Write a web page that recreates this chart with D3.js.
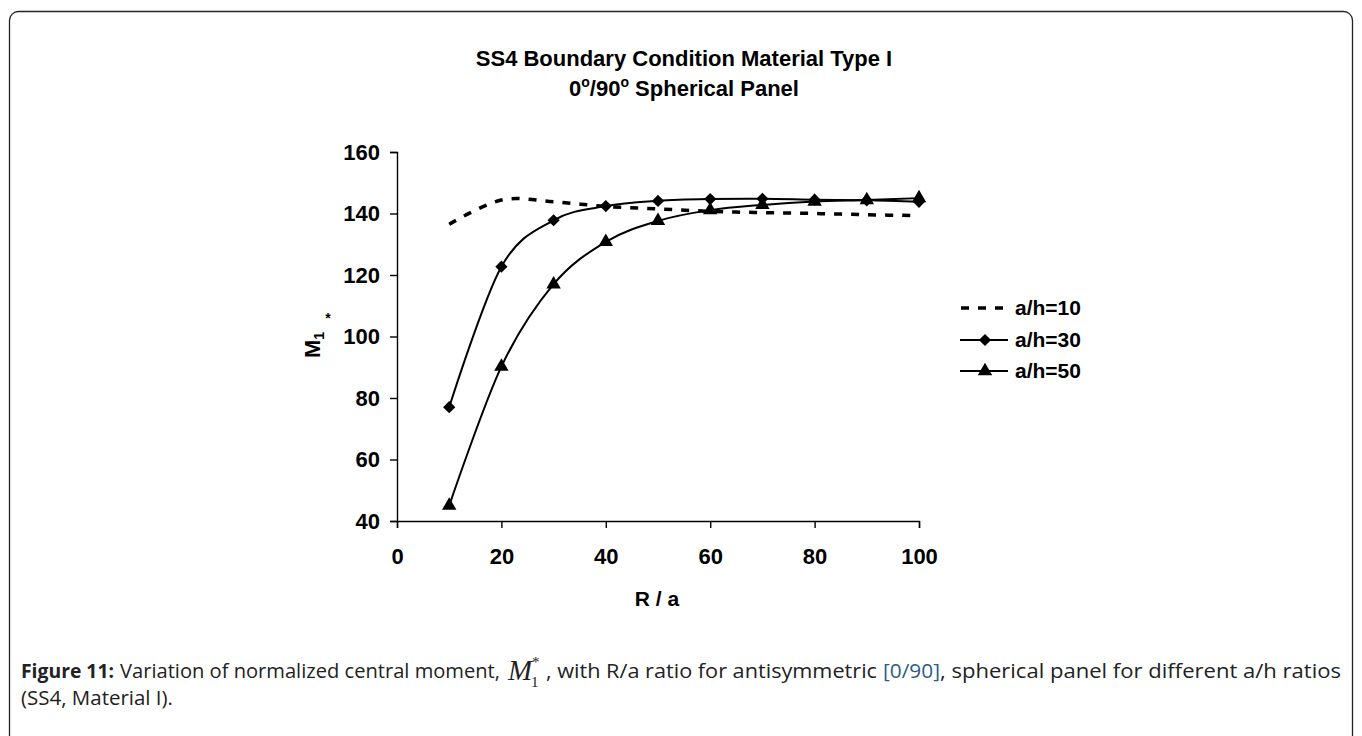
<!DOCTYPE html>
<html>
<head>
<meta charset="utf-8">
<script src="https://cdn.jsdelivr.net/npm/d3@7/dist/d3.min.js"></script>
<style>
  html, body { margin: 0; padding: 0; background: #fff; }
  svg { display: block; }
</style>
</head>
<body>
<svg id="chart" width="1362" height="736"></svg>
<script>
// R/a ratios along the horizontal axis
const ratios = [10, 20, 30, 40, 50, 60, 70, 80, 90, 100];
// Normalized central moment M1* for each a/h ratio
const ah10 = [136.5, 144.4, 143.8, 142.3, 141.5, 140.7, 140.3, 140.0, 139.6, 139.3];
const ah30 = [77.0, 122.7, 137.8, 142.4, 144.1, 144.7, 144.8, 144.5, 144.3, 143.8];
const ah50 = [45.0, 90.2, 117.0, 130.8, 137.6, 141.1, 142.8, 143.9, 144.4, 145.0];
const seriesNames = ["a/h=10", "a/h=30", "a/h=50"];
const xTicks = [0, 20, 40, 60, 80, 100];
const yTicks = [40, 60, 80, 100, 120, 140, 160];

const svg = d3.select("#chart");
const FONT = "'Liberation Sans', Arial, sans-serif";

// outer frame with rounded top corners
svg.append("rect")
  .attr("x", 9.5).attr("y", 11.5)
  .attr("width", 1343).attr("height", 760)
  .attr("rx", 9)
  .attr("fill", "none").attr("stroke", "#222").attr("stroke-width", 1.3);

// titles
const title = svg.append("text")
  .attr("text-anchor", "middle")
  .attr("font-family", FONT).attr("font-weight", "bold").attr("font-size", 22)
  .attr("fill", "#000");
title.append("tspan").attr("x", 684).attr("y", 66).text("SS4 Boundary Condition Material Type I");
const t2 = title.append("tspan").attr("x", 684).attr("y", 96);
t2.append("tspan").text("0");
t2.append("tspan").attr("font-size", 14).attr("dy", -9).text("o");
t2.append("tspan").attr("dy", 9).text("/90");
t2.append("tspan").attr("font-size", 14).attr("dy", -9).text("o");
t2.append("tspan").attr("dy", 9).text(" Spherical Panel");

const x = d3.scaleLinear().domain([0, 100]).range([397, 919]);
const y = d3.scaleLinear().domain([40, 160]).range([521, 152]);

// axes
const gx = svg.append("g").attr("transform", `translate(0,${y(40)})`)
  .call(d3.axisBottom(x).tickValues(xTicks).tickSize(7).tickPadding(20).tickFormat(d3.format("d")));
const gy = svg.append("g").attr("transform", `translate(${x(0)},0)`)
  .call(d3.axisLeft(y).tickValues(yTicks).tickSize(7).tickPadding(10).tickFormat(d3.format("d")));
[gx, gy].forEach(g => {
  g.select(".domain").attr("stroke", "#000").attr("stroke-width", 1.4);
  g.selectAll(".tick line").attr("stroke", "#000").attr("stroke-width", 1.4);
  g.selectAll(".tick text")
    .attr("font-family", FONT).attr("font-weight", "bold").attr("font-size", 22).attr("fill", "#000");
});

// axis titles
svg.append("text")
  .attr("x", 657).attr("y", 606).attr("text-anchor", "middle")
  .attr("font-family", FONT).attr("font-weight", "bold").attr("font-size", 21)
  .text("R / a");

const yl = svg.append("text")
  .attr("transform", "translate(320,345) rotate(-90)")
  .attr("text-anchor", "middle")
  .attr("font-family", FONT).attr("font-weight", "bold").attr("font-size", 22);
yl.append("tspan").text("M");
yl.append("tspan").attr("font-size", 14).attr("dy", 4).text("1");
svg.append("text")
  .attr("x", 328).attr("y", 323).attr("text-anchor", "middle")
  .attr("font-family", FONT).attr("font-weight", "bold").attr("font-size", 14)
  .text("*");

// series lines
const line = d3.line()
  .x((d, i) => x(ratios[i]))
  .y(d => y(d))
  .curve(d3.curveCardinal.tension(0));

svg.append("path").datum(ah10).attr("d", line)
  .attr("fill", "none").attr("stroke", "#000").attr("stroke-width", 3.5)
  .attr("stroke-dasharray", "8,9");
svg.append("path").datum(ah30).attr("d", line)
  .attr("fill", "none").attr("stroke", "#000").attr("stroke-width", 2);
svg.append("path").datum(ah50).attr("d", line)
  .attr("fill", "none").attr("stroke", "#000").attr("stroke-width", 2);

const diamond = d3.symbol().type(d3.symbolDiamond2).size(95);
const triangle = d3.symbol().type(d3.symbolTriangle).size(90);

svg.append("g").selectAll("path").data(ah30).join("path")
  .attr("transform", (d, i) => `translate(${x(ratios[i])},${y(d)})`)
  .attr("d", diamond).attr("fill", "#000");
svg.append("g").selectAll("path").data(ah50).join("path")
  .attr("transform", (d, i) => `translate(${x(ratios[i])},${y(d)})`)
  .attr("d", triangle).attr("fill", "#000");

// legend
const legendRows = [308, 340, 371];
const leg = svg.append("g");
seriesNames.forEach((name, i) => {
  const ly = legendRows[i];
  const ln = leg.append("line")
    .attr("x1", 960).attr("x2", 1008).attr("y1", ly).attr("y2", ly)
    .attr("stroke", "#000");
  if (i === 0) {
    ln.attr("stroke-width", 3.5).attr("stroke-dasharray", "8,9").attr("x1", 961);
  } else {
    ln.attr("stroke-width", 2);
    leg.append("path")
      .attr("transform", `translate(985,${ly})`)
      .attr("d", i === 1 ? diamond : triangle).attr("fill", "#000");
  }
  leg.append("text")
    .attr("x", 1015).attr("y", ly).attr("dy", "0.35em")
    .attr("font-family", FONT).attr("font-weight", "bold").attr("font-size", 21)
    .text(name);
});

// figure caption, set in runs so the inline math sits between them
const CAP = "'Open Sans', Lato, sans-serif";
const SERIF = "'Liberation Serif', 'Times New Roman', serif";
const cap = svg.append("g").attr("font-family", CAP).attr("font-size", 20).attr("fill", "#222");
function run(xPos, yPos, len, txt) {
  return cap.append("text").attr("x", xPos).attr("y", yPos)
    .attr("textLength", len).attr("lengthAdjust", "spacingAndGlyphs").text(txt);
}
run(21, 678, 93, "Figure 11:").attr("font-weight", "bold");
run(120, 678, 380, "Variation of normalized central moment,");
cap.append("text").attr("x", 508).attr("y", 680)
  .attr("font-family", SERIF).attr("font-style", "italic").attr("font-size", 29).text("M");
cap.append("text").attr("x", 531).attr("y", 687)
  .attr("font-family", SERIF).attr("font-size", 15).text("1");
cap.append("text").attr("x", 532).attr("y", 667)
  .attr("font-family", SERIF).attr("font-size", 15).text("*");
run(546, 678, 331, ", with R/a ratio for antisymmetric");
run(883, 678, 57, "[0/90]").attr("fill", "#2b5d85");
run(940, 678, 401, ", spherical panel for different a/h ratios");
run(21, 705, 152, "(SS4, Material I).");
</script>
</body>
</html>
